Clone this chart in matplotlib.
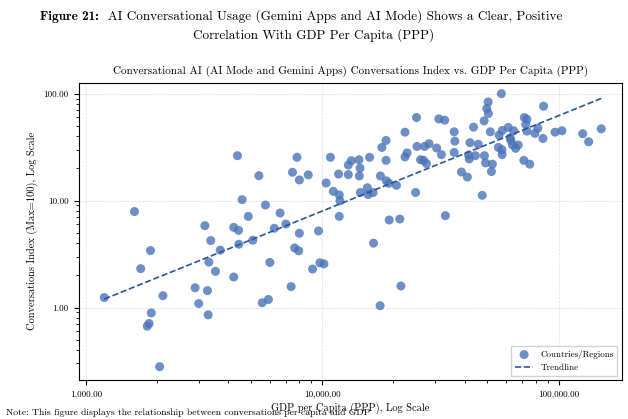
import matplotlib
matplotlib.use("Agg")
import matplotlib.pyplot as plt
from matplotlib.ticker import FuncFormatter, NullFormatter
import numpy as np

plt.rcParams["font.family"] = ["cmr10", "DejaVu Serif"]
plt.rcParams["axes.formatter.use_mathtext"] = True

# GDP per capita (PPP) and conversations index
gdp = [1195, 1605, 1705, 1876, 1890, 1850, 1817, 2118, 2050, 2897, 3000, 3290, 3267, 3186,
       3373, 3313, 3532, 3700, 4220, 4220, 4424, 4436, 4375, 4580, 4865, 5080, 5395, 5570,
       5750, 5917, 6000, 6265, 6630, 7015, 7380, 7480, 7640, 7815, 7945, 8000, 8000, 8725,
       9100, 9640, 9770, 10160, 10380, 10830, 11140, 11720, 11800, 11880, 11800, 12890, 12890,
       13270, 14300, 14450, 14350, 14500, 15520, 15850, 15630, 16410, 16480, 17570, 17630,
       17880, 18620, 18620, 18670, 19140, 19190, 20600, 21280, 21520, 22390, 22390, 22860,
       24820, 25060, 25170, 26060, 26840, 27100, 27600, 28310, 30480, 31130, 31920, 32960,
       33190, 36160, 36400, 36160, 38820, 41110, 41590, 41880, 42170, 43650, 44460, 45710,
       47530, 48420, 48530, 49090, 49660, 50350, 50470, 51410, 51990, 52480, 55590, 55980,
       57280, 57680, 57810, 57550, 61230, 62370, 62800, 63830, 64570, 65770, 67450, 71610,
       73450, 72610, 71290, 73450, 75510, 79400, 81700, 85900, 86400, 96600, 103300, 126500,
       134000, 151600]
conv = [1.24, 7.9, 2.31, 3.41, 0.89, 0.71, 0.67, 1.29, 0.28, 1.53, 1.09, 0.855, 1.44, 5.83,
        4.23, 2.66, 2.18, 3.44, 1.93, 5.62, 5.27, 3.91, 26.3, 10.2, 7.12, 4.26, 17.1, 1.11,
        9.08, 1.19, 2.64, 5.51, 7.65, 6.04, 1.57, 18.4, 3.61, 25.4, 3.39, 15.6, 4.95, 17.4,
        2.29, 5.2, 2.62, 2.56, 14.6, 25.4, 12.2, 17.7, 11.3, 9.96, 7.12, 21.5, 17.5,
        23.6, 24.1, 20.1, 17.0, 11.9, 13.2, 25.4, 11.4, 11.9, 4.0, 1.04, 17.0,
        31.4, 36.5, 23.8, 15.3, 14.5, 6.59, 13.9, 6.73, 1.59, 43.6, 25.6, 27.9,
        11.9, 59.8, 32.1, 24.1, 23.8, 32.1, 22.2, 34.0, 31.0, 58.1, 26.9, 56.5,
        7.23, 44.0, 36.0, 28.2, 18.5, 16.6, 26.7, 24.5, 34.8, 48.6, 26.3, 33.6,
        11.2, 55.7, 26.3, 22.5, 72.5, 83.6, 65.2, 44.0, 18.7, 21.9, 31.4, 40.9,
        100.0, 26.9, 45.3, 29.9, 48.3, 38.7, 36.5, 33.1, 45.0, 30.8, 33.1, 59.8,
        57.7, 51.5, 23.8, 44.6, 21.9, 42.5, 47.6, 38.1, 76.3, 43.6, 45.0, 42.2,
        35.5, 46.9]

gdp = np.array(gdp, dtype=float)
conv = np.array(conv, dtype=float)

fig = plt.figure(figsize=(6.28, 4.19), dpi=100)
ax = fig.add_axes([0.125, 0.093, 0.865, 0.71])

ax.scatter(gdp, conv, s=42, color="#4a72b8", alpha=0.8, edgecolors="none",
           label="Countries/Regions", zorder=3)

# trendline: linear fit in log-log space
k, b = np.polyfit(np.log10(gdp), np.log10(conv), 1)
xs = np.array([gdp.min(), gdp.max()])
ax.plot(xs, 10 ** (k * np.log10(xs) + b), "--", color="#2a5599", lw=1.2,
        label="Trendline", zorder=4)

ax.set_xscale("log")
ax.set_yscale("log")
ax.set_xlim(930, 185000)
ax.set_ylim(0.21, 127)
fmt = FuncFormatter(lambda v, p: f"{v:,.2f}")
ax.xaxis.set_major_formatter(fmt)
ax.yaxis.set_major_formatter(fmt)
ax.xaxis.set_minor_formatter(NullFormatter())
ax.yaxis.set_minor_formatter(NullFormatter())
ax.tick_params(labelsize=6.5)
ax.grid(True, which="major", ls="--", lw=0.5, color="#dddddd")
ax.set_xlabel("GDP per Capita (PPP), Log Scale", fontsize=7.5, labelpad=3)
ax.set_ylabel("Conversations Index (Max=100), Log Scale", fontsize=7.5)
ax.set_title("Conversational AI (AI Mode and Gemini Apps) Conversations Index vs. GDP Per Capita (PPP)",
             fontsize=8, pad=6)
ax.legend(loc="lower right", fontsize=6.5, framealpha=0.9, fancybox=False, edgecolor="#cccccc")

t1 = fig.text(0.064, 0.952, "Figure 21:", fontsize=9.5, fontweight="bold",
              family=["cmb10", "DejaVu Serif"], va="baseline")
ax.annotate("  AI Conversational Usage (Gemini Apps and AI Mode) Shows a Clear, Positive",
            xy=(1, 0), xycoords=t1, va="bottom", ha="left", fontsize=9.5)
fig.text(0.5, 0.907, "Correlation With GDP Per Capita (PPP)", fontsize=9.5, ha="center",
         va="baseline")
fig.text(0.01, 0.004, "Note: This figure displays the relationship between conversations per capita and GDP",
         fontsize=7, va="bottom")

fig.savefig("out.png", dpi=100)
